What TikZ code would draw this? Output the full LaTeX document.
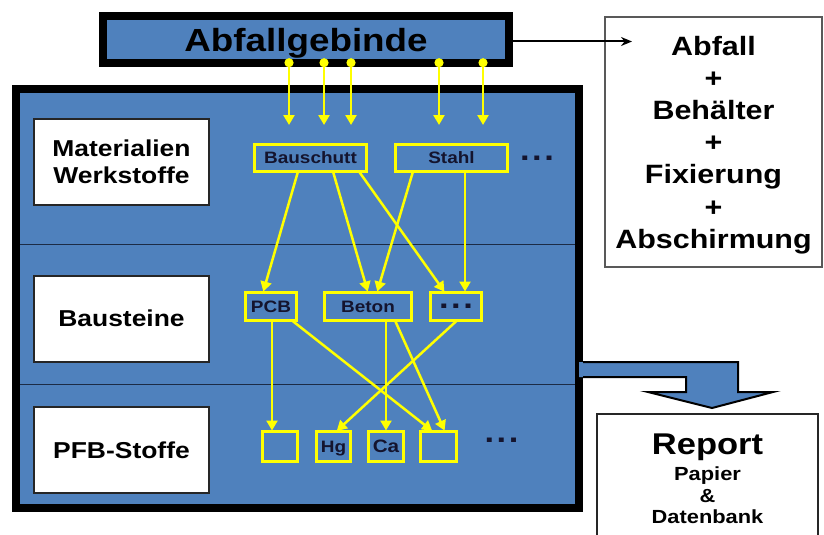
\documentclass[tikz,border=0pt]{standalone}
\usepackage{fontspec}
\setmainfont[FakeStretch=1.15]{Liberation Sans}
\usetikzlibrary{arrows.meta}
\definecolor{panelblue}{HTML}{4F81BD}
\definecolor{linkyellow}{HTML}{FFFF00}
\definecolor{inktext}{HTML}{14142E}
\definecolor{rulecol}{HTML}{1C2B45}

\begin{document}
\begin{tikzpicture}[x=1pt,y=-1pt,
  every node/.style={inner sep=0pt,outer sep=0pt},
  ybox/.style={draw=linkyellow,line width=3pt,fill=panelblue,text=inktext,
    text depth=0pt,minimum height=27pt,font=\bfseries\fontsize{16.5}{18}\selectfont},
  levelbox/.style={draw=black!85,line width=2pt,fill=white,minimum width=175pt,
    minimum height=86pt,align=center,text depth=0pt,
    font=\bfseries\fontsize{23}{27}\selectfont},
  ylink/.style={draw=linkyellow,line width=2.5pt,shorten >=1pt,
    -{Triangle[length=10pt,width=11pt]}},
  feed/.style={draw=linkyellow,line width=2.5pt,
    {Circle[length=9pt]}-{Triangle[length=10pt,width=11pt]}},
  dotsfont/.style={font=\bfseries\fontsize{30}{30}\selectfont,text=inktext,text depth=0pt},
  smalltext/.style={font=\bfseries\fontsize{#1}{#1}\selectfont,anchor=base}
]
\useasboundingbox (0,0) rectangle (824,535);
\clip (0,0) rectangle (824,535);

% outer panel
\node[draw=black,line width=8pt,fill=panelblue,minimum width=563pt,minimum height=419pt] (main) at (297.5,298.5) {};

% bent output arrow towards the report
\fill[panelblue] (579,362) -- (738,362) -- (738,392) -- (773,392) -- (712,408)
  -- (648,392) -- (686,392) -- (686,377) -- (579,377) -- cycle;
\draw[line width=2pt,line join=miter] (583,362) -- (738,362) -- (738,392) -- (773,392)
  -- (712,408) -- (648,392) -- (686,392) -- (686,377) -- (583,377);

% level separators
\draw[rulecol,line width=1pt] (20,244) -- (575,244);
\draw[rulecol,line width=1pt] (20,384) -- (575,384);

% level labels
\node[levelbox] (lv1) at (121.5,162) {Materialien\\Werkstoffe};
\node[levelbox] (lv2) at (121.5,318.5) {Bausteine};
\node[levelbox] (lv3) at (121.5,450) {PFB-Stoffe};

% header box
\node[draw=black,line width=8pt,fill=panelblue,minimum width=406pt,minimum height=46.5pt,
  text depth=0pt,font=\bfseries\fontsize{32}{32}\selectfont] (abf) at (306,39.5) {Abfallgebinde};

% composition box
\node[draw=black!65,line width=1.5pt,minimum width=217pt,minimum height=250pt,align=center,
  text depth=0pt,font=\bfseries\fontsize{26.5}{32.2}\selectfont] (comp) at (713.5,142)
  {Abfall\\+\\Behälter\\+\\Fixierung\\+\\Abschirmung};
\coordinate (tipA) at (632,41.5);
\draw[line width=2pt,-{Stealth[length=11pt,width=9pt]}] ([yshift=-2pt]abf.east) -- (tipA);

% report box
\node[draw=black!85,line width=2pt,minimum width=221pt,minimum height=146pt] (rep) at (707.5,487) {};
\node[smalltext=30] (reptitle) at (707.5,454) {Report};
\node[smalltext=19] (rep1) at (707.5,480) {Papier};
\node[smalltext=19] (rep2) at (707.5,502) {\&};
\node[smalltext=19] (rep3) at (707.5,523) {Datenbank};

% materials
\node[ybox,minimum width=112pt] (bau) at (310.5,158) {Bauschutt};
\node[ybox,minimum width=112pt] (sta) at (451.5,158) {Stahl};
\node[dotsfont] (mdots) at (537,158) {.\kern2.5pt.\kern2.5pt.};

% building blocks
\node[ybox,minimum width=51pt,minimum height=28pt] (pcb) at (271,306.5) {PCB};
\node[ybox,minimum width=87pt,minimum height=28pt] (bet) at (368,306.5) {Beton};
\node[ybox,minimum width=51pt,minimum height=28pt,dotsfont] (bdots) at (456,306.5) {.\kern2.5pt.\kern2.5pt.};

% substances
\node[ybox,minimum width=35pt,minimum height=30pt] (p1) at (280,446.5) {};
\node[ybox,minimum width=34pt,minimum height=30pt] (hg) at (333.5,446.5) {Hg};
\node[ybox,minimum width=35pt,minimum height=30pt,font=\bfseries\fontsize{18}{18}\selectfont] (ca) at (386,446.5) {Ca};
\node[ybox,minimum width=36pt,minimum height=30pt] (p4) at (438.5,446.5) {};
\node[dotsfont] (sdots) at (501.5,440) {.\kern2.5pt.\kern2.5pt.};

% feeds from the package
\coordinate (t1) at (289,125);
\coordinate (t2) at (324,125);
\coordinate (t3) at (351,125);
\coordinate (t4) at (439,125);
\coordinate (t5) at (483,125);
\draw[feed] ([xshift=-17pt,yshift=4.5pt]abf.south) -- (t1);
\draw[feed] ([xshift=18pt,yshift=4.5pt]abf.south) -- (t2);
\draw[feed] ([xshift=45pt,yshift=4.5pt]abf.south) -- (t3);
\draw[feed] ([xshift=133pt,yshift=4.5pt]abf.south) -- (t4);
\draw[feed] ([xshift=177pt,yshift=4.5pt]abf.south) -- (t5);

% materials -> building blocks
\draw[ylink] ([xshift=-12.5pt]bau.south) -- ([xshift=-8pt]pcb.north);
\draw[ylink] ([xshift=22.5pt]bau.south) -- (bet.north);
\draw[ylink] ([xshift=48.5pt]bau.south) -- ([xshift=-11pt]bdots.north);
\draw[ylink] ([xshift=-38.5pt]sta.south) -- ([xshift=9pt]bet.north);
\draw[ylink] ([xshift=13.5pt]sta.south) -- ([xshift=9pt]bdots.north);

% building blocks -> substances
\draw[ylink] ([xshift=1pt]pcb.south) -- ([xshift=-8pt]p1.north);
\draw[ylink] ([xshift=21pt]pcb.south) -- ([xshift=-5.5pt]p4.north);
\draw[ylink] ([xshift=18pt]bet.south) -- (ca.north);
\draw[ylink] ([xshift=27pt]bet.south) -- ([xshift=6.5pt]p4.north);
\draw[ylink] ([xshift=1pt]bdots.south) -- ([xshift=2.5pt]hg.north);
\end{tikzpicture}
\end{document}
